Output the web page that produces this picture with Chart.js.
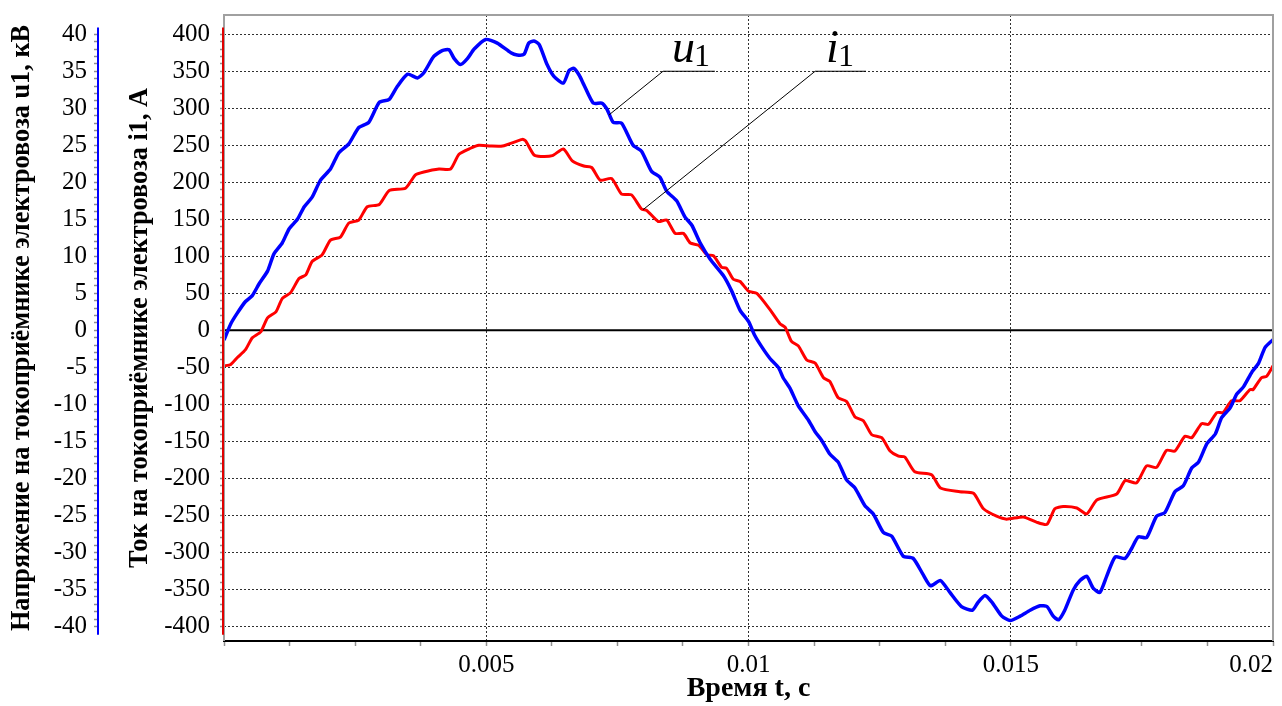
<!DOCTYPE html>
<html>
<head>
<meta charset="utf-8">
<script src="https://cdn.jsdelivr.net/npm/chart.js@4.4.1/dist/chart.umd.min.js"></script>
<style>
  html, body { margin: 0; padding: 0; background: #fff; }
  #wrap { width: 1282px; height: 706px; position: relative; }
</style>
</head>
<body>
<div id="wrap"><canvas id="c"></canvas></div>
<script>
// ---- Data ----
// Time, seconds
const timeU = [0, 0.00013, 0.00025, 0.00041, 0.00054, 0.00067, 0.00083, 0.00095, 0.00111, 0.00124,
  0.00140, 0.00153, 0.00168, 0.00184, 0.00203, 0.00219, 0.00238, 0.00257, 0.00276, 0.00296,
  0.00315, 0.00330, 0.00350, 0.00369, 0.00381, 0.00400, 0.00416, 0.00429, 0.00439, 0.00451,
  0.00464, 0.00477, 0.00499, 0.00521, 0.00547, 0.00559, 0.00572, 0.00581, 0.00591, 0.00601,
  0.00616, 0.00629, 0.00647, 0.00658, 0.00667, 0.00677, 0.00686, 0.00704, 0.00720, 0.00730,
  0.00742, 0.00758, 0.00780, 0.00796, 0.00815, 0.00831, 0.00844, 0.00863, 0.00879, 0.00892,
  0.00908, 0.00927, 0.00952, 0.00968, 0.00984, 0.01000, 0.01012, 0.01025, 0.01041, 0.01057,
  0.01066, 0.01079, 0.01095, 0.01114, 0.01127, 0.01139, 0.01155, 0.01171, 0.01187, 0.01203,
  0.01222, 0.01238, 0.01257, 0.01273, 0.01295, 0.01314, 0.01333, 0.01347, 0.01366, 0.01384,
  0.01406, 0.01427, 0.01438, 0.01451, 0.01464, 0.01483, 0.01499, 0.01518, 0.01537, 0.01556,
  0.01569, 0.01581, 0.01591, 0.01603, 0.01619, 0.01632, 0.01645, 0.01657, 0.01670, 0.01683,
  0.01699, 0.01718, 0.01731, 0.01743, 0.01759, 0.01778, 0.01794, 0.01813, 0.01829, 0.01845,
  0.01858, 0.01874, 0.01890, 0.01902, 0.01918, 0.01931, 0.01944, 0.01960, 0.01972, 0.01985, 0.02000];
// Voltage u1, kV
const voltageU1 = [-1.3, 0.9, 2.3, 3.9, 4.7, 6.3, 8.0, 10.3, 11.8, 13.7,
  15.0, 16.7, 18.0, 20.3, 21.8, 24.0, 25.2, 27.4, 28.1, 30.8,
  31.2, 32.9, 34.6, 34.1, 34.8, 37.0, 37.8, 37.9, 36.7, 35.9,
  36.7, 38.0, 39.3, 38.8, 37.5, 37.2, 37.3, 38.8, 39.1, 38.6,
  35.9, 34.3, 33.4, 35.1, 35.4, 34.5, 33.2, 30.7, 30.7, 29.9,
  28.1, 28.0, 25.0, 24.2, 21.5, 20.7, 18.8, 17.5, 15.3, 14.2,
  11.8, 9.6, 7.4, 5.3, 2.7, 1.2, -0.7, -2.2, -3.8, -5.0,
  -6.4, -7.8, -10.2, -12.1, -13.7, -14.8, -16.7, -17.8, -20.2, -21.3,
  -23.7, -24.8, -27.3, -27.8, -30.5, -30.8, -33.0, -34.5, -33.8, -35.4,
  -37.3, -37.8, -36.7, -35.8, -36.7, -38.6, -39.2, -38.6, -37.8, -37.2,
  -37.3, -38.6, -39.1, -37.8, -35.1, -33.8, -33.2, -34.8, -35.4, -33.2,
  -30.6, -30.8, -29.4, -27.9, -28.0, -25.1, -24.6, -21.8, -21.0, -18.6,
  -17.8, -15.3, -14.0, -11.8, -10.5, -8.6, -7.6, -5.6, -4.5, -2.3, -1.25];

const timeI = [0, 0.00013, 0.00025, 0.00041, 0.00054, 0.00070, 0.00083, 0.00099, 0.00111, 0.00127,
  0.00143, 0.00156, 0.00168, 0.00187, 0.00203, 0.00222, 0.00238, 0.00257, 0.00273, 0.00296,
  0.00315, 0.00346, 0.00365, 0.00381, 0.00410, 0.00432, 0.00448, 0.00470, 0.00486, 0.00508,
  0.00531, 0.00569, 0.00575, 0.00591, 0.00604, 0.00626, 0.00647, 0.00664, 0.00686, 0.00701,
  0.00717, 0.00739, 0.00758, 0.00777, 0.00796, 0.00806, 0.00828, 0.00844, 0.00860, 0.00876,
  0.00889, 0.00905, 0.00921, 0.00933, 0.00949, 0.00958, 0.00971, 0.00984, 0.01000, 0.01016,
  0.01041, 0.01060, 0.01070, 0.01082, 0.01095, 0.01111, 0.01127, 0.01143, 0.01155, 0.01171,
  0.01187, 0.01203, 0.01219, 0.01235, 0.01254, 0.01270, 0.01286, 0.01298, 0.01317, 0.01349,
  0.01366, 0.01403, 0.01429, 0.01448, 0.01473, 0.01492, 0.01524, 0.01549, 0.01569, 0.01584,
  0.01600, 0.01626, 0.01645, 0.01664, 0.01702, 0.01718, 0.01740, 0.01759, 0.01778, 0.01797,
  0.01813, 0.01832, 0.01845, 0.01864, 0.01877, 0.01893, 0.01905, 0.01921, 0.01937, 0.01956,
  0.01962, 0.01978, 0.01988, 0.02000];
// Current i1, A
const currentI1 = [-48, -46, -37, -26, -10, -2, 17, 25, 43, 51,
  70, 75, 93, 102, 122, 126, 145, 149, 167, 170,
  189, 192, 210, 214, 218, 218, 238, 246, 250, 249,
  249, 258, 256, 237, 235, 236, 245, 229, 222, 220,
  203, 205, 184, 183, 164, 162, 147, 149, 131, 131,
  118, 115, 102, 101, 85, 84, 69, 66, 53, 50,
  28, 9, 4, -15, -21, -40, -44, -64, -69, -91,
  -96, -117, -122, -141, -145, -163, -170, -171, -191, -195,
  -213, -218, -220, -241, -251, -255, -252, -259, -262, -241,
  -238, -240, -248, -229, -221, -203, -206, -183, -185, -162,
  -163, -143, -145, -126, -127, -111, -111, -95, -95, -80,
  -80, -64, -62, -48];

// Axis texts
const titleU = 'Напряжение на токоприёмнике электровоза u1, кВ';
const titleI = 'Ток на токоприёмнике электровоза i1, А';
const titleT = 'Время t, с';
const xTickLabels = { 500: '0.005', 1000: '0.01', 1500: '0.015', 2000: '0.02' };

// Series labels with leader lines (anchor points in data units: seconds, amperes)
const seriesTags = [
  { main: 'u', sub: '1', from: [0.00734, 291], elbow: [0.00837, 350], end: [0.00936, 350], dx: 9 },
  { main: 'i', sub: '1', from: [0.00799, 163], elbow: [0.01127, 350], end: [0.01224, 350], dx: 11 }
];

// ---- Build ----
const SERIF = '"Liberation Serif", "Times New Roman", serif';
function fitFont(text, target) {
  const c = document.createElement('canvas').getContext('2d');
  c.font = 'bold 100px ' + SERIF;
  return Math.round(target / c.measureText(text).width * 1000) / 10;
}
const titleSize = fitFont(titleU, 606);
const titleLH = titleSize * 1.2;

const uPoints = timeU.map((t, k) => ({ x: t, y: voltageU1[k] }));
const iPoints = timeI.map((t, k) => ({ x: t, y: currentI1[k] }));

const decor = {
  id: 'decor',
  beforeDatasetsDraw(chart) {
    const { ctx, chartArea: a, scales } = chart;
    const y0 = scales.y.getPixelForValue(0);
    ctx.save();
    ctx.strokeStyle = '#000';
    ctx.lineWidth = 2;
    ctx.beginPath();
    ctx.moveTo(a.left, y0);
    ctx.lineTo(a.right, y0);
    ctx.stroke();
    ctx.restore();
  },
  afterDraw(chart) {
    const { ctx, chartArea: a, scales } = chart;
    const sx = scales.x, sy = scales.y, su = scales.u;
    ctx.save();
    // frame (top, right, left)
    ctx.strokeStyle = '#a0a0a0';
    ctx.lineWidth = 2;
    ctx.beginPath();
    ctx.moveTo(a.left, a.bottom);
    ctx.lineTo(a.left, a.top);
    ctx.lineTo(a.right, a.top);
    ctx.lineTo(a.right, a.bottom);
    ctx.stroke();
    // axis lines
    ctx.lineWidth = 2;
    ctx.strokeStyle = '#e00000';
    ctx.beginPath();
    ctx.moveTo(sy.right - 1, sy.getPixelForValue(409));
    ctx.lineTo(sy.right - 1, sy.getPixelForValue(-411));
    ctx.stroke();
    ctx.strokeStyle = '#0000ff';
    ctx.beginPath();
    ctx.moveTo(su.right, su.getPixelForValue(40.9));
    ctx.lineTo(su.right, su.getPixelForValue(-41.1));
    ctx.stroke();
    // series tags
    ctx.strokeStyle = '#000';
    ctx.lineWidth = 1;
    ctx.fillStyle = '#000';
    for (const tag of seriesTags) {
      const p0 = [sx.getPixelForValue(tag.from[0]), sy.getPixelForValue(tag.from[1])];
      const p1 = [sx.getPixelForValue(tag.elbow[0]), sy.getPixelForValue(tag.elbow[1])];
      const p2 = [sx.getPixelForValue(tag.end[0]), sy.getPixelForValue(tag.end[1])];
      ctx.beginPath();
      ctx.moveTo(p0[0], p0[1]);
      ctx.lineTo(p1[0], p1[1]);
      ctx.lineTo(p2[0], p2[1]);
      ctx.stroke();
      ctx.textAlign = 'left';
      ctx.textBaseline = 'alphabetic';
      ctx.font = 'italic 46px ' + SERIF;
      const x = p1[0] + tag.dx;
      ctx.fillText(tag.main, x, p1[1] - 9);
      const w = ctx.measureText(tag.main).width;
      ctx.font = '32px ' + SERIF;
      ctx.fillText(tag.sub, x + w - 1, p1[1] - 5);
    }
    ctx.restore();
  }
};

const tickFont = { family: SERIF, size: 25 };

new Chart(document.getElementById('c'), {
  type: 'line',
  data: {
    datasets: [
      { label: 'u1', data: uPoints, yAxisID: 'u', borderColor: '#0000ff', borderWidth: 3.5,
        pointRadius: 0, tension: 0.2, fill: false },
      { label: 'i1', data: iPoints, yAxisID: 'y', borderColor: '#ff0000', borderWidth: 3,
        pointRadius: 0, tension: 0.2, fill: false }
    ]
  },
  options: {
    responsive: true,
    maintainAspectRatio: false,
    animation: false,
    layout: { padding: { top: 15, right: 9, left: 0, bottom: 0 } },
    plugins: { legend: { display: false }, tooltip: { enabled: false } },
    scales: {
      x: {
        type: 'linear', min: 0, max: 0.02,
        ticks: {
          stepSize: 0.00125, autoSkip: false, maxRotation: 0, align: 'inner',
          color: '#000', font: tickFont, padding: 4,
          callback: (v) => xTickLabels[Math.round(v * 100000)] || ''
        },
        grid: {
          drawOnChartArea: true, tickLength: 5, lineWidth: 1, tickWidth: 1.5,
          color: (c) => {
            const k = Math.round(c.tick.value * 100000);
            return (k % 500 === 0 && k > 0 && k < 2000) ? '#303030' : 'transparent';
          },
          tickColor: '#909090'
        },
        border: { display: true, color: '#000', width: 2, dash: [2, 2] },
        title: { display: true, text: titleT, color: '#000',
          font: { family: SERIF, size: 28, weight: 'bold' }, padding: { top: 0, bottom: 0 } },
        afterFit(s) { s.height = 65; s.paddingLeft = 0; s.paddingRight = 0; }
      },
      y: {
        type: 'linear', position: 'left', weight: 0,
        min: -419.6, max: 426,
        ticks: {
          stepSize: 10, includeBounds: false, autoSkip: false, color: '#000', font: tickFont, padding: 10,
          callback: (v) => (Math.round(v) % 50 === 0 && Math.abs(v) <= 400) ? String(Math.round(v)) : ''
        },
        grid: {
          drawOnChartArea: true, tickLength: 4, lineWidth: 1, tickWidth: 1.5,
          color: (c) => {
            const v = Math.round(c.tick.value);
            return (v % 50 === 0 && v !== 0 && Math.abs(v) <= 400) ? '#303030' : 'transparent';
          },
          tickColor: (c) => Math.abs(c.tick.value) <= 400 ? '#909090' : 'transparent'
        },
        border: { display: false, dash: [2, 2] },
        title: { display: true, text: titleI, color: '#000',
          font: { family: SERIF, size: titleSize, weight: 'bold' },
          padding: { top: 42 - titleLH / 2, bottom: 0 } },
        afterFit(s) { s.width = 126; s.paddingTop = 0; s.paddingBottom = 0; }
      },
      u: {
        type: 'linear', position: 'left', weight: 1,
        min: -41.96, max: 42.6,
        ticks: {
          stepSize: 1, includeBounds: false, autoSkip: false, color: '#000', font: tickFont, padding: 7,
          callback: (v) => (Math.round(v) % 5 === 0 && Math.abs(v) <= 40) ? String(Math.round(v)) : ''
        },
        grid: {
          drawOnChartArea: false, tickLength: 4, tickWidth: 1.5,
          color: 'transparent',
          tickColor: (c) => Math.abs(c.tick.value) <= 40 ? '#909090' : 'transparent'
        },
        border: { display: false },
        title: { display: true, text: titleU, color: '#000',
          font: { family: SERIF, size: titleSize, weight: 'bold' },
          padding: { top: 22 - titleLH / 2, bottom: 0 } },
        afterFit(s) { s.width = 98; s.paddingTop = 0; s.paddingBottom = 0; }
      }
    }
  },
  plugins: [decor]
});
</script>
</body>
</html>
